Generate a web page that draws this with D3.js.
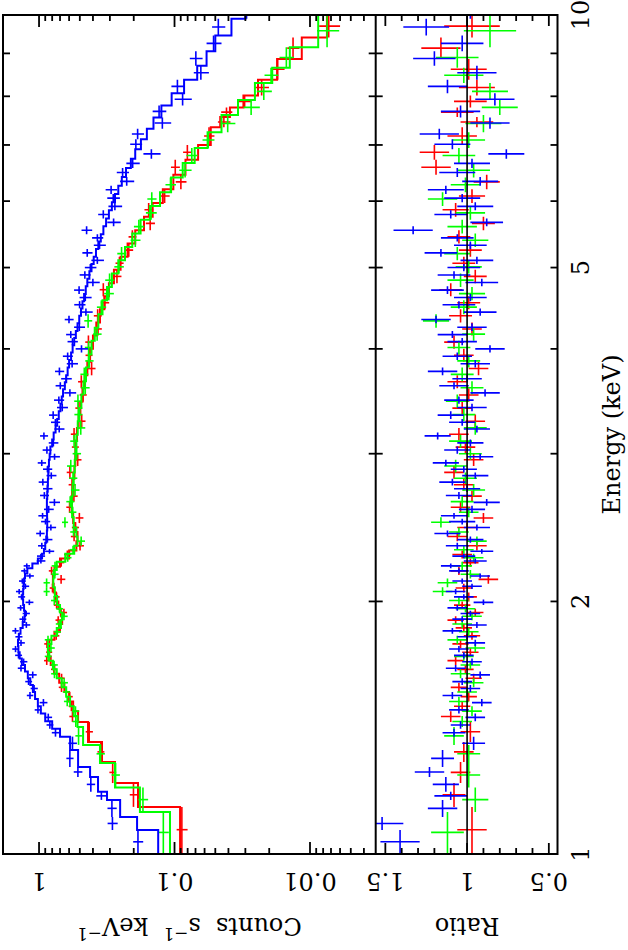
<!DOCTYPE html>
<html>
<head>
<meta charset="utf-8">
<script src="https://cdn.jsdelivr.net/npm/d3@7"></script>
<style>
  body { margin: 0; background: #fff; }
  svg { display: block; }
  text { font-family: "DejaVu Serif", serif; font-size: 24px; fill: #000; white-space: pre; }
</style>
</head>
<body>
<div id="chart"></div>
<script>
// bin edges (keV), model (counts/s/keV) per bin, data/model ratio, ratio error
const blueEdges = [1.00, 1.068, 1.107, 1.16, 1.186, 1.235, 1.27, 1.33, 1.38, 1.41,
  1.44, 1.47, 1.50, 1.53, 1.56, 1.59, 1.62, 1.65, 1.68, 1.71,
  1.74, 1.77, 1.80, 1.83, 1.86, 1.89, 1.92, 1.95, 1.98, 2.01,
  2.04, 2.07, 2.10, 2.13, 2.16, 2.19, 2.22, 2.25, 2.28, 2.31,
  2.35, 2.39, 2.43, 2.47, 2.51, 2.55, 2.60, 2.65, 2.70, 2.75,
  2.80, 2.85, 2.90, 2.95, 3.00, 3.06, 3.12, 3.18, 3.24, 3.30,
  3.37, 3.44, 3.51, 3.58, 3.65, 3.72, 3.80, 3.88, 3.96, 4.04,
  4.12, 4.20, 4.29, 4.38, 4.47, 4.56, 4.65, 4.75, 4.85, 4.95,
  5.05, 5.15, 5.26, 5.37, 5.48, 5.60, 5.72, 5.85, 5.98, 6.12,
  6.26, 6.41, 6.57, 6.74, 6.92, 7.11, 7.32, 7.55, 7.80, 8.07,
  8.37, 8.70, 9.05, 9.45, 9.90, 10.4];
const blueModel = [0.132, 0.189, 0.252, 0.315, 0.367, 0.42, 0.515, 0.59, 0.70, 0.80,
  0.90, 0.97, 1.02, 1.07, 1.11, 1.16, 1.21, 1.27, 1.34, 1.39,
  1.42, 1.43, 1.41, 1.37, 1.32, 1.28, 1.27, 1.29, 1.31, 1.32,
  1.31, 1.30, 1.29, 1.27, 1.22, 1.12, 1.02, 0.95, 0.92, 0.90,
  0.885, 0.875, 0.87, 0.87, 0.872, 0.875, 0.875, 0.87, 0.865, 0.86,
  0.855, 0.85, 0.845, 0.835, 0.825, 0.80, 0.78, 0.755, 0.735, 0.715,
  0.695, 0.68, 0.665, 0.645, 0.63, 0.615, 0.60, 0.58, 0.565, 0.55,
  0.535, 0.52, 0.505, 0.49, 0.478, 0.465, 0.452, 0.44, 0.425, 0.41,
  0.395, 0.38, 0.365, 0.35, 0.335, 0.32, 0.305, 0.29, 0.275, 0.26,
  0.245, 0.228, 0.21, 0.195, 0.177, 0.16, 0.143, 0.125, 0.105, 0.085,
  0.068, 0.058, 0.050, 0.038, 0.030];
const blueRatio = [1.41, 1.52, 1.15, 1.10, 1.13, 1.23, 1.15, 0.96, 1.08, 1.04,
  0.95, 1.05, 0.91, 1.09, 0.98, 1.03, 0.92, 1.07, 0.97, 1.02,
  1.05, 0.95, 1.00, 1.09, 0.94, 1.03, 0.98, 1.06, 0.90, 1.02,
  1.07, 0.97, 1.03, 0.92, 1.05, 1.10, 0.95, 1.02, 0.91, 1.06,
  0.98, 1.12, 0.94, 1.03, 1.08, 0.97, 0.88, 1.05, 1.00, 1.09,
  0.95, 1.02, 1.13, 0.92, 1.06, 0.98, 1.18, 0.94, 1.03, 1.10,
  0.97, 1.05, 0.89, 1.08, 1.00, 1.15, 0.95, 1.06, 0.86, 1.03,
  1.09, 0.97, 1.19, 0.92, 1.05, 0.98, 1.12, 0.91, 1.08, 1.02,
  0.94, 1.16, 0.98, 1.06, 1.33, 0.88, 1.10, 0.95, 1.03, 1.13,
  0.92, 1.06, 0.97, 0.76, 1.09, 1.17, 0.86, 1.04, 0.83, 1.12,
  0.94, 1.20, 1.03, 1.25, 0.98];
const blueErr = [0.12, 0.13, 0.09, 0.10, 0.08, 0.09, 0.07, 0.07, 0.07, 0.06,
  0.06, 0.06, 0.06, 0.06, 0.06, 0.06, 0.06, 0.06, 0.06, 0.06,
  0.06, 0.06, 0.06, 0.06, 0.06, 0.06, 0.06, 0.06, 0.06, 0.06,
  0.06, 0.06, 0.06, 0.06, 0.06, 0.06, 0.07, 0.07, 0.07, 0.07,
  0.08, 0.08, 0.08, 0.08, 0.08, 0.08, 0.08, 0.08, 0.08, 0.08,
  0.08, 0.08, 0.08, 0.08, 0.08, 0.08, 0.08, 0.08, 0.08, 0.08,
  0.09, 0.09, 0.09, 0.09, 0.09, 0.09, 0.09, 0.09, 0.09, 0.09,
  0.09, 0.09, 0.09, 0.10, 0.10, 0.10, 0.10, 0.10, 0.10, 0.10,
  0.10, 0.10, 0.10, 0.10, 0.12, 0.10, 0.10, 0.11, 0.11, 0.11,
  0.11, 0.11, 0.11, 0.11, 0.11, 0.12, 0.12, 0.12, 0.12, 0.12,
  0.12, 0.13, 0.13, 0.14, 0.14];

const redEdges = [1.00, 1.138, 1.215, 1.287, 1.36, 1.437, 1.48, 1.52, 1.56, 1.60,
  1.64, 1.68, 1.72, 1.76, 1.80, 1.84, 1.88, 1.92, 1.96, 2.00,
  2.05, 2.10, 2.15, 2.20, 2.25, 2.30, 2.36, 2.42, 2.48, 2.55,
  2.63, 2.71, 2.80, 2.90, 3.00, 3.11, 3.22, 3.34, 3.46, 3.59,
  3.72, 3.86, 4.00, 4.15, 4.30, 4.46, 4.62, 4.79, 4.97, 5.15,
  5.34, 5.54, 5.75, 5.97, 6.20, 6.45, 6.72, 7.00, 7.35, 7.56,
  7.76, 8.02, 8.37, 8.86, 9.40, 10.0];
const redModel = [0.091, 0.186, 0.275, 0.343, 0.435, 0.515, 0.56, 0.60, 0.65, 0.71,
  0.77, 0.82, 0.86, 0.84, 0.77, 0.70, 0.675, 0.69, 0.72, 0.75,
  0.78, 0.79, 0.77, 0.70, 0.60, 0.53, 0.52, 0.54, 0.56, 0.572,
  0.57, 0.56, 0.548, 0.54, 0.535, 0.525, 0.51, 0.495, 0.478, 0.46,
  0.44, 0.42, 0.40, 0.378, 0.355, 0.33, 0.305, 0.28, 0.25, 0.222,
  0.195, 0.168, 0.145, 0.122, 0.102, 0.083, 0.067, 0.054, 0.046, 0.039,
  0.031, 0.0242, 0.0175, 0.0115, 0.0075];
const redRatio = [0.97, 1.08, 1.04, 1.02, 0.98, 1.10, 1.03, 0.99, 1.05, 0.96,
  1.01, 1.07, 0.98, 1.04, 0.97, 1.02, 1.07, 0.95, 1.03, 0.99,
  1.02, 0.87, 1.05, 0.98, 1.03, 0.94, 1.06, 1.00, 0.90, 1.04,
  0.97, 1.02, 1.08, 0.96, 1.01, 1.05, 0.95, 1.03, 0.99, 1.06,
  0.93, 1.02, 1.08, 0.97, 1.04, 0.99, 1.10, 0.95, 1.02, 0.98,
  1.05, 0.90, 1.07, 0.97, 0.88, 1.19, 1.20, 1.03, 0.94, 1.06,
  0.98, 0.94, 0.99, 1.16, 0.97];
const redErr = [0.09, 0.07, 0.06, 0.06, 0.06, 0.06, 0.05, 0.05, 0.05, 0.05,
  0.05, 0.05, 0.05, 0.05, 0.05, 0.05, 0.05, 0.05, 0.05, 0.05,
  0.05, 0.06, 0.05, 0.05, 0.06, 0.06, 0.06, 0.06, 0.06, 0.06,
  0.06, 0.06, 0.06, 0.06, 0.06, 0.06, 0.06, 0.06, 0.06, 0.06,
  0.06, 0.06, 0.06, 0.06, 0.07, 0.07, 0.07, 0.07, 0.07, 0.07,
  0.07, 0.07, 0.08, 0.08, 0.08, 0.09, 0.09, 0.09, 0.10, 0.10,
  0.10, 0.11, 0.11, 0.12, 0.17];

const greenEdges = [1.00, 1.122, 1.20, 1.284, 1.349, 1.417, 1.46, 1.50, 1.54, 1.58,
  1.62, 1.66, 1.70, 1.74, 1.78, 1.82, 1.86, 1.90, 1.94, 1.98,
  2.03, 2.08, 2.13, 2.18, 2.23, 2.28, 2.33, 2.39, 2.45, 2.52,
  2.59, 2.67, 2.76, 2.85, 2.95, 3.05, 3.16, 3.28, 3.40, 3.53,
  3.66, 3.80, 3.94, 4.09, 4.24, 4.40, 4.57, 4.74, 4.92, 5.10,
  5.29, 5.49, 5.70, 5.92, 6.15, 6.40, 6.66, 6.94, 7.25, 7.60,
  7.92, 8.30, 8.65, 9.15, 10.0];
const greenModel = [0.108, 0.18, 0.275, 0.355, 0.473, 0.52, 0.555, 0.59, 0.63, 0.68,
  0.74, 0.79, 0.84, 0.86, 0.81, 0.74, 0.69, 0.675, 0.70, 0.735,
  0.765, 0.785, 0.78, 0.74, 0.64, 0.55, 0.52, 0.53, 0.555, 0.57,
  0.572, 0.565, 0.555, 0.545, 0.538, 0.53, 0.518, 0.503, 0.487, 0.47,
  0.45, 0.43, 0.41, 0.388, 0.365, 0.34, 0.315, 0.29, 0.26, 0.232,
  0.205, 0.178, 0.152, 0.128, 0.106, 0.087, 0.071, 0.057, 0.045, 0.034,
  0.0255, 0.019, 0.0141, 0.0087];
const greenRatio = [1.12, 0.95, 0.99, 0.99, 1.08, 1.03, 0.97, 1.05, 1.00, 0.96,
  1.04, 0.98, 1.02, 0.95, 1.06, 0.99, 1.03, 0.97, 1.01, 1.05,
  1.15, 1.12, 0.98, 1.03, 0.96, 1.02, 0.94, 1.05, 1.16, 0.99,
  1.03, 0.96, 1.01, 1.07, 0.98, 1.04, 0.95, 1.02, 1.06, 0.97,
  1.03, 0.99, 1.05, 0.96, 1.19, 1.02, 0.97, 1.04, 0.99, 1.06,
  0.95, 1.03, 0.98, 1.15, 1.01, 0.96, 1.05, 0.99, 0.90, 0.80,
  0.86, 1.02, 1.06, 0.86];
const greenErr = [0.10, 0.08, 0.07, 0.07, 0.06, 0.06, 0.06, 0.06, 0.06, 0.06,
  0.06, 0.06, 0.06, 0.06, 0.06, 0.06, 0.06, 0.06, 0.06, 0.06,
  0.06, 0.06, 0.06, 0.06, 0.06, 0.06, 0.06, 0.06, 0.06, 0.06,
  0.07, 0.07, 0.07, 0.07, 0.07, 0.07, 0.07, 0.07, 0.07, 0.07,
  0.07, 0.07, 0.07, 0.07, 0.08, 0.08, 0.08, 0.08, 0.08, 0.08,
  0.08, 0.09, 0.09, 0.09, 0.09, 0.10, 0.10, 0.10, 0.11, 0.11,
  0.11, 0.12, 0.13, 0.16];

const energyLabels = [1, 2, 5, 10];
const countLabels = [1, 0.1, 0.01];
const ratioLabels = [1.5, 1, 0.5];

// the plot is laid out landscape and then turned a quarter turn
const svg = d3.select('#chart').append('svg')
  .attr('width', 628)
  .attr('height', 950);
const g = svg.append('g').attr('transform', 'translate(0,950) rotate(-90)');

const pLeft = 96, pRight = 935, pTop = 3, pMid = 375.7, pBottom = 557.5;

const x = d3.scaleLog().domain([1, 10]).range([pLeft, pRight]);
const yC = d3.scaleLog().domain([0.003274, 1.845]).range([pMid, pTop]);
const yR = d3.scaleLinear().domain([0.447, 1.559]).range([pBottom, pMid]);

const defs = svg.append('defs');
defs.append('clipPath').attr('id', 'clipC').append('rect')
  .attr('x', pLeft).attr('y', pTop).attr('width', pRight - pLeft).attr('height', pMid - pTop);
defs.append('clipPath').attr('id', 'clipR').append('rect')
  .attr('x', pLeft).attr('y', pMid).attr('width', pRight - pLeft).attr('height', pBottom - pMid);

const sets = [
  { color: '#ff0000', edges: redEdges, model: redModel, ratio: redRatio, err: redErr },
  { color: '#00ff00', edges: greenEdges, model: greenModel, ratio: greenRatio, err: greenErr },
  { color: '#0000ff', edges: blueEdges, model: blueModel, ratio: blueRatio, err: blueErr }
];

const countsG = g.append('g').attr('clip-path', 'url(#clipC)');
const ratioG = g.append('g').attr('clip-path', 'url(#clipR)');

sets.forEach(s => {
  const bins = s.model.map((m, i) => ({
    lo: s.edges[i], hi: s.edges[i + 1], c: (s.edges[i] + s.edges[i + 1]) / 2,
    m: m, r: s.ratio[i], e: s.err[i]
  }));

  // counts: data crosses
  const cg = countsG.append('g').attr('stroke', s.color).attr('stroke-width', 1.6);
  bins.forEach(b => {
    const val = b.m * b.r;
    cg.append('line')
      .attr('x1', x(b.lo)).attr('x2', x(b.hi))
      .attr('y1', yC(val)).attr('y2', yC(val));
    cg.append('line')
      .attr('x1', x(b.c)).attr('x2', x(b.c))
      .attr('y1', yC(b.m * (b.r - b.e))).attr('y2', yC(b.m * (b.r + b.e)));
  });

  // counts: model histogram
  const pts = bins.map(b => [b.lo, b.m]);
  pts.push([bins[bins.length - 1].hi, bins[bins.length - 1].m]);
  countsG.append('path')
    .attr('d', d3.line().x(d => x(d[0])).y(d => yC(d[1])).curve(d3.curveStepAfter)(pts))
    .attr('fill', 'none')
    .attr('stroke', s.color)
    .attr('stroke-width', 2);

  // ratio crosses
  const rg = ratioG.append('g').attr('stroke', s.color).attr('stroke-width', 1.6);
  bins.forEach(b => {
    rg.append('line')
      .attr('x1', x(b.lo)).attr('x2', x(b.hi))
      .attr('y1', yR(b.r)).attr('y2', yR(b.r));
    rg.append('line')
      .attr('x1', x(b.c)).attr('x2', x(b.c))
      .attr('y1', yR(b.r - b.e)).attr('y2', yR(b.r + b.e));
  });
});

// unity line in the ratio panel
ratioG.append('line')
  .attr('x1', x(1)).attr('x2', x(10))
  .attr('y1', yR(1)).attr('y2', yR(1))
  .attr('stroke', '#000').attr('stroke-width', 1.6);

// frame
g.append('rect')
  .attr('x', pLeft).attr('y', pTop).attr('width', pRight - pLeft).attr('height', pBottom - pTop)
  .attr('fill', 'none').attr('stroke', '#000').attr('stroke-width', 2);
g.append('line')
  .attr('x1', pLeft).attr('x2', pRight).attr('y1', pMid).attr('y2', pMid)
  .attr('stroke', '#000').attr('stroke-width', 2);

// ticks
const tickG = g.append('g').attr('stroke', '#000').attr('stroke-width', 1.8);
function tick(x1, y1, x2, y2) {
  tickG.append('line').attr('x1', x1).attr('y1', y1).attr('x2', x2).attr('y2', y2);
}
x.ticks().forEach(E => {
  const u = x(E);
  tick(u, pTop, u, pTop + 7);
  tick(u, pMid, u, pMid - 7);
  tick(u, pMid, u, pMid + 7);
  tick(u, pBottom, u, pBottom - 7);
});
yC.ticks().forEach(c => {
  const lg = Math.log10(c);
  const len = Math.abs(lg - Math.round(lg)) < 1e-6 ? 12 : 6;
  tick(pLeft, yC(c), pLeft + len, yC(c));
  tick(pRight, yC(c), pRight - len, yC(c));
});
yR.ticks(10).forEach(r => {
  const len = Math.abs(r * 2 - Math.round(r * 2)) < 1e-6 ? 11 : 6;
  tick(pLeft, yR(r), pLeft + len, yR(r));
  tick(pRight, yR(r), pRight - len, yR(r));
});

// tick labels
energyLabels.forEach(E => {
  g.append('text').attr('x', x(E)).attr('y', 589)
    .attr('text-anchor', 'middle').text(E);
});
countLabels.forEach(c => {
  g.append('text')
    .attr('transform', `translate(77.5,${yC(c)}) rotate(-90)`)
    .attr('text-anchor', 'middle').text(c);
});
ratioLabels.forEach(r => {
  g.append('text')
    .attr('transform', `translate(77.5,${yR(r)}) rotate(-90)`)
    .attr('text-anchor', 'middle').text(r);
});

// axis titles
const yt = g.append('text')
  .attr('transform', `translate(32,${(pTop + pMid) / 2}) rotate(-90)`)
  .attr('text-anchor', 'middle');
yt.append('tspan').text('Counts  s');
yt.append('tspan').attr('dy', -10).attr('font-size', 17).text('−1');
yt.append('tspan').attr('dy', 10).text('  keV');
yt.append('tspan').attr('dy', -10).attr('font-size', 17).text('−1');

g.append('text')
  .attr('transform', `translate(32,${yR(1)}) rotate(-90)`)
  .attr('text-anchor', 'middle').text('Ratio');

g.append('text')
  .attr('x', (pLeft + pRight) / 2).attr('y', 620)
  .attr('text-anchor', 'middle').text('Energy (keV)');
</script>
</body>
</html>
